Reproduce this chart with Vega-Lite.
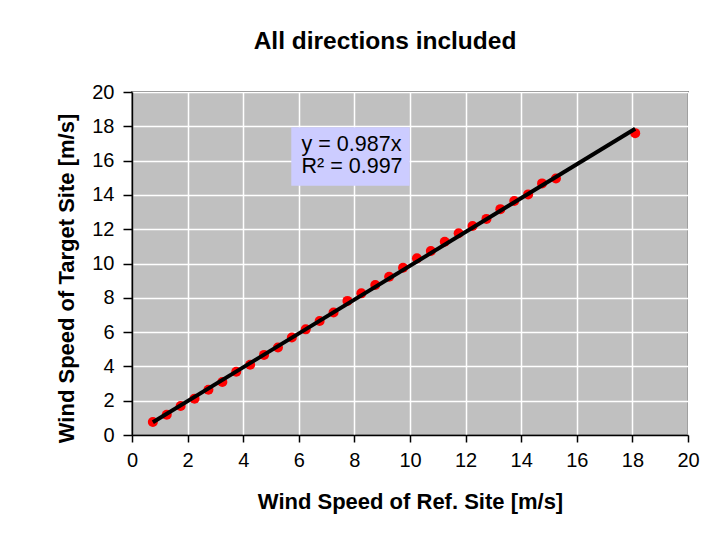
{
  "$schema": "https://vega.github.io/schema/vega-lite/v6.json",
  "autosize": "none",
  "width": 556,
  "height": 343,
  "padding": {"left": 132, "top": 92, "right": 40, "bottom": 100},
  "background": "white",
  "title": {
    "text": "All directions included",
    "font": "Liberation Sans",
    "fontSize": 24.5,
    "fontWeight": "bold",
    "color": "black",
    "anchor": "middle",
    "dx": -25,
    "offset": 28
  },
  "config": {
    "view": {"fill": "#C0C0C0", "stroke": "#808080", "strokeWidth": 2},
    "axis": {
      "labelFont": "Liberation Sans",
      "labelFontSize": 20,
      "labelColor": "black",
      "labelOverlap": false,
      "titleFont": "Liberation Sans",
      "titleFontSize": 22,
      "titleFontWeight": "bold",
      "titleColor": "black",
      "domainColor": "black",
      "domainWidth": 1.5,
      "tickColor": "black",
      "tickWidth": 1.5,
      "gridColor": "white",
      "gridWidth": 1.5,
      "gridOpacity": 1
    }
  },
  "datasets": {
    "points": [
      {"ref": 0.75, "target": 0.76},
      {"ref": 1.25, "target": 1.18},
      {"ref": 1.75, "target": 1.69},
      {"ref": 2.25, "target": 2.12},
      {"ref": 2.75, "target": 2.64},
      {"ref": 3.25, "target": 3.09},
      {"ref": 3.75, "target": 3.69},
      {"ref": 4.25, "target": 4.1},
      {"ref": 4.75, "target": 4.67},
      {"ref": 5.25, "target": 5.1},
      {"ref": 5.75, "target": 5.68},
      {"ref": 6.25, "target": 6.16},
      {"ref": 6.75, "target": 6.65},
      {"ref": 7.25, "target": 7.14},
      {"ref": 7.75, "target": 7.82},
      {"ref": 8.25, "target": 8.26},
      {"ref": 8.75, "target": 8.75},
      {"ref": 9.25, "target": 9.23},
      {"ref": 9.75, "target": 9.75},
      {"ref": 10.25, "target": 10.3},
      {"ref": 10.75, "target": 10.73},
      {"ref": 11.25, "target": 11.27},
      {"ref": 11.75, "target": 11.76},
      {"ref": 12.25, "target": 12.19},
      {"ref": 12.75, "target": 12.6},
      {"ref": 13.25, "target": 13.17},
      {"ref": 13.75, "target": 13.64},
      {"ref": 14.25, "target": 14.03},
      {"ref": 14.75, "target": 14.67},
      {"ref": 15.25, "target": 14.96},
      {"ref": 18.1, "target": 17.6}
    ],
    "trend": [
      {"ref": 0.75, "target": 0.74},
      {"ref": 18.1, "target": 17.86}
    ],
    "box": [
      {"ref": 5.73, "ref2": 9.99, "target": 14.54, "target2": 17.94}
    ],
    "label": [
      {"ref": 6.1, "target": 16.9, "text": "y = 0.987x"},
      {"ref": 6.1, "target": 15.6, "text": "R² = 0.997"}
    ]
  },
  "encoding": {
    "x": {
      "field": "ref",
      "type": "quantitative",
      "scale": {"domain": [0, 20], "nice": false, "zero": false},
      "axis": {
        "title": "Wind Speed of Ref. Site [m/s]",
        "values": [0, 2, 4, 6, 8, 10, 12, 14, 16, 18, 20],
        "tickCount": 20,
        "tickSize": 7,
        "labelPadding": 8,
        "titlePadding": 21,
        "labelFlush": false
      }
    },
    "y": {
      "field": "target",
      "type": "quantitative",
      "scale": {"domain": [0, 20], "nice": false, "zero": false},
      "axis": {
        "title": "Wind Speed of Target Site [m/s]",
        "values": [0, 2, 4, 6, 8, 10, 12, 14, 16, 18, 20],
        "tickCount": 20,
        "tickSize": 9,
        "labelPadding": 9,
        "labelFlush": false,
        "titleX": -66,
        "titleY": 186,
        "titleBaseline": "middle",
        "titleAlign": "center"
      }
    }
  },
  "layer": [
    {
      "data": {"name": "points"},
      "mark": {"type": "circle", "color": "#FF0000", "opacity": 1, "size": 100}
    },
    {
      "data": {"name": "trend"},
      "mark": {"type": "line", "color": "black", "strokeWidth": 4}
    },
    {
      "data": {"name": "box"},
      "mark": {"type": "rect", "color": "#CCCCFF", "opacity": 1},
      "encoding": {
        "x2": {"field": "ref2"},
        "y2": {"field": "target2"}
      }
    },
    {
      "data": {"name": "label"},
      "mark": {"type": "text", "font": "Liberation Sans", "fontSize": 21.5, "color": "black", "align": "left", "baseline": "middle"},
      "encoding": {
        "text": {"field": "text"}
      }
    }
  ]
}
